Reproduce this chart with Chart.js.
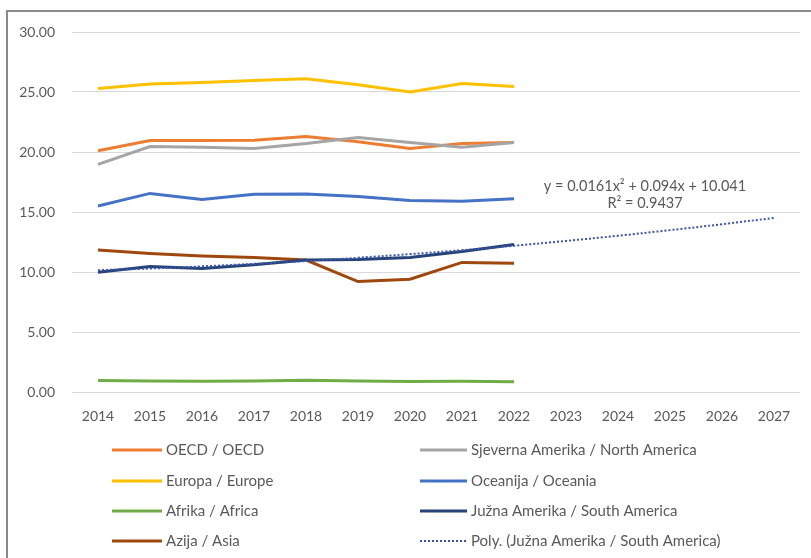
<!DOCTYPE html>
<html>
<head>
<meta charset="utf-8">
<script src="https://cdn.jsdelivr.net/npm/chart.js@4/dist/chart.umd.min.js"></script>
<style>
  body { margin: 0; background: #fff; overflow: hidden; }
  #wrap { position: relative; width: 811px; height: 558px; }
  #frame { position: absolute; left: 6px; top: 10px; width: 900px; height: 700px; border: 2px solid #8a8a8a; }
  canvas { position: absolute; left: 0; top: 0; }
</style>
</head>
<body>
<div id="wrap">
  <div id="frame"></div>
  <canvas id="myChart" width="811" height="558"></canvas>
</div>
<script>
let years = ['2014', '2015', '2016', '2017', '2018', '2019', '2020', '2021', '2022', '2023', '2024', '2025', '2026', '2027'];

let oecd = [20.1, 20.95, 20.95, 20.97, 21.3, 20.86, 20.3, 20.7, 20.8];
let northAmerica = [18.97, 20.45, 20.4, 20.3, 20.7, 21.2, 20.8, 20.4, 20.8];
let europe = [25.3, 25.67, 25.8, 25.95, 26.1, 25.6, 25.0, 25.7, 25.45];
let oceania = [15.5, 16.55, 16.05, 16.47, 16.5, 16.3, 15.95, 15.9, 16.1];
let africa = [0.95, 0.92, 0.9, 0.92, 0.98, 0.92, 0.88, 0.9, 0.85];
let southAmerica = [9.97, 10.45, 10.3, 10.6, 11.0, 11.05, 11.2, 11.7, 12.3];
let asia = [11.83, 11.55, 11.33, 11.2, 11.0, 9.2, 9.4, 10.8, 10.72];
// dotted polynomial trend of South America, read along the line up to 2027
let southTrend = [10.15, 10.29, 10.47, 10.68, 10.91, 11.19, 11.49, 11.82, 12.19, 12.59, 13.02, 13.49, 13.98, 14.51];

let yTicks = [0, 5, 10, 15, 20, 25, 30];
let trendText = ['y = 0.0161x\u00B2 + 0.094x + 10.041', 'R\u00B2 = 0.9437'];

let textColor = '#595959';
let fontFamily = 'Lato, "Open Sans", sans-serif';

function series(label, data, color, order) {
    return {
        label: label,
        data: data,
        borderColor: color,
        backgroundColor: color,
        borderWidth: 3,
        pointRadius: 0,
        tension: 0,
        order: order
    };
}

let datasets = [
    series('OECD / OECD', oecd, '#ED7D31', 5),
    series('Sjeverna Amerika / North America', northAmerica, '#A5A5A5', 4),
    series('Europa / Europe', europe, '#FFC000', 6),
    series('Oceanija / Oceania', oceania, '#4472C4', 7),
    series('Afrika / Africa', africa, '#70AD47', 8),
    series('Južna Amerika / South America', southAmerica, '#264478', 2),
    series('Azija / Asia', asia, '#9E480E', 3),
    {
        label: 'Poly. (Južna Amerika / South America)',
        data: southTrend,
        borderColor: '#3A55A8',
        borderWidth: 2,
        borderDash: [2, 2],
        pointRadius: 0,
        tension: 0.4,
        order: 1
    }
];

// two-column legend below the chart, plus trendline label
let extras = {
    id: 'extras',
    afterDraw(chart) {
        let ctx = chart.ctx;
        ctx.save();
        ctx.font = '15px ' + fontFamily;
        ctx.fillStyle = textColor;
        ctx.textBaseline = 'middle';
        let cols = [{ x1: 112, x2: 162, tx: 166 }, { x1: 420, x2: 467, tx: 471 }];
        let rows = [450, 481, 511, 541];
        chart.data.datasets.forEach(function (ds, i) {
            let c = cols[i % 2];
            let y = rows[Math.floor(i / 2)];
            ctx.beginPath();
            ctx.strokeStyle = ds.borderColor;
            ctx.lineWidth = ds.borderDash ? 2 : 3;
            ctx.setLineDash(ds.borderDash || []);
            ctx.moveTo(c.x1, y);
            ctx.lineTo(c.x2, y);
            ctx.stroke();
            ctx.setLineDash([]);
            ctx.textAlign = 'left';
            ctx.fillText(ds.label, c.tx, y);
        });
        ctx.textAlign = 'center';
        ctx.font = '14.5px ' + fontFamily;
        ctx.fillText(trendText[0], 645, 186);
        ctx.fillText(trendText[1], 645, 203);
        ctx.restore();
    }
};

let chart = new Chart(document.getElementById('myChart').getContext('2d'), {
    type: 'line',
    data: {
        labels: years,
        datasets: datasets
    },
    options: {
        responsive: false,
        animation: false,
        layout: {
            padding: { left: 0, right: 11, top: 32, bottom: 136 }
        },
        plugins: {
            legend: { display: false },
            tooltip: { enabled: false }
        },
        scales: {
            x: {
                offset: true,
                grid: { display: false },
                border: { display: false },
                ticks: {
                    color: textColor,
                    font: { family: fontFamily, size: 14 },
                    padding: 8,
                    maxRotation: 0
                },
                afterFit(scale) { scale.height = 30; }
            },
            y: {
                min: 0,
                max: 30,
                afterBuildTicks(scale) {
                    scale.ticks = yTicks.map(function (v) { return { value: v }; });
                },
                grid: { color: '#d9d9d9', lineWidth: 1, drawTicks: false },
                border: { display: false },
                ticks: {
                    color: textColor,
                    font: { family: fontFamily, size: 14 },
                    padding: 17,
                    callback: function (v) { return Number(v).toFixed(2); }
                },
                afterFit(scale) { scale.width = 72; }
            }
        }
    },
    plugins: [extras]
});
</script>
</body>
</html>
